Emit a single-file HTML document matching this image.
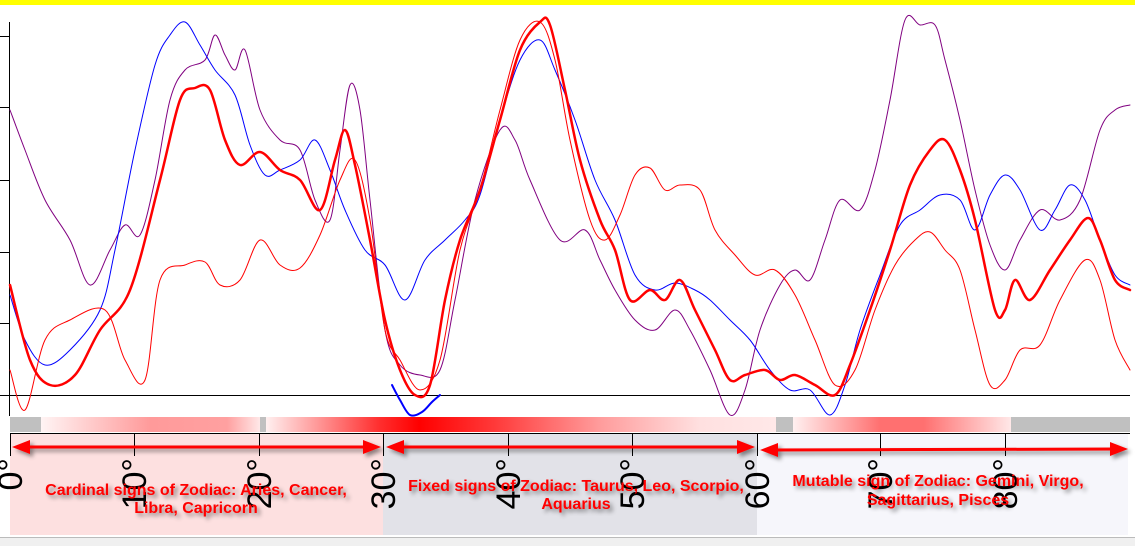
<!DOCTYPE html>
<html><head><meta charset="utf-8"><style>
html,body{margin:0;padding:0;background:#fff;width:1135px;height:546px;overflow:hidden;font-family:"Liberation Sans",sans-serif}
</style></head><body>
<svg id="s" width="1135" height="546" viewBox="0 0 1135 546" xmlns="http://www.w3.org/2000/svg" style="position:absolute;left:0;top:0">
<defs>
<linearGradient id="g1" x1="0" x2="1"><stop offset="0" stop-color="#fff4f4"/><stop offset="0.5" stop-color="#ff9a9a"/><stop offset="0.85" stop-color="#ffa0a0"/><stop offset="1" stop-color="#ffe8e8"/></linearGradient>
<linearGradient id="g2" x1="0" x2="1"><stop offset="0" stop-color="#fff0f0"/><stop offset="0.22" stop-color="#ff3030"/><stop offset="0.3" stop-color="#ff0000"/><stop offset="0.45" stop-color="#ff3a3a"/><stop offset="0.65" stop-color="#ff9a9a"/><stop offset="0.85" stop-color="#ffe0e0"/><stop offset="1" stop-color="#ffe8e8"/></linearGradient>
<linearGradient id="g3" x1="0" x2="1"><stop offset="0" stop-color="#fff0f0"/><stop offset="0.4" stop-color="#ff7070"/><stop offset="0.6" stop-color="#ff7070"/><stop offset="1" stop-color="#ffe8e8"/></linearGradient>
<filter id="sh" x="-5%" y="-20%" width="110%" height="160%"><feDropShadow dx="3" dy="3" stdDeviation="2" flood-color="#000" flood-opacity="0.45"/></filter>
</defs>
<rect x="0" y="0" width="1135" height="5" fill="#ffff00"/>
<rect x="10" y="433" width="373" height="102" fill="#fde0e0"/>
<rect x="383" y="433" width="374" height="102" fill="#e2e2e8"/>
<rect x="757" y="433" width="371" height="102" fill="#f6f6fb"/>
<rect x="0" y="537" width="1135" height="9" fill="#f0f0f0"/>
<line x1="0" y1="537.5" x2="1135" y2="537.5" stroke="#bbb"/>
<rect x="10" y="417" width="31" height="15" fill="#c0c0c0"/>
<rect x="41" y="417" width="219" height="15" fill="url(#g1)"/>
<rect x="260" y="417" width="6" height="15" fill="#c0c0c0"/>
<rect x="266" y="417" width="510" height="15" fill="url(#g2)"/>
<rect x="776" y="417" width="17" height="15" fill="#c0c0c0"/>
<rect x="793" y="417" width="218" height="15" fill="url(#g3)"/>
<rect x="1011" y="417" width="119" height="15" fill="#c0c0c0"/>
<g stroke="#000" stroke-width="1">
<line x1="9.5" y1="22" x2="9.5" y2="416"/>
<line x1="0" y1="36.5" x2="9" y2="36.5"/><line x1="0" y1="107.5" x2="9" y2="107.5"/><line x1="0" y1="180.5" x2="9" y2="180.5"/><line x1="0" y1="252.5" x2="9" y2="252.5"/><line x1="0" y1="323.5" x2="9" y2="323.5"/>
<line x1="0" y1="395.5" x2="1130" y2="395.5"/>
<line x1="10" y1="433.5" x2="1130" y2="433.5"/>
<line x1="10.5" y1="433" x2="10.5" y2="456"/><line x1="134.5" y1="433" x2="134.5" y2="456"/><line x1="259.5" y1="433" x2="259.5" y2="456"/><line x1="383.5" y1="433" x2="383.5" y2="456"/><line x1="508.5" y1="433" x2="508.5" y2="456"/><line x1="632.5" y1="433" x2="632.5" y2="456"/><line x1="757.5" y1="433" x2="757.5" y2="456"/><line x1="880.5" y1="433" x2="880.5" y2="456"/><line x1="1005.5" y1="433" x2="1005.5" y2="456"/>
</g>
<g id="series" fill="none" stroke-linejoin="round" stroke-linecap="round">
<polyline stroke="#800080" stroke-width="1" points="10,110 25,150 45,200 70,240 90,285 110,250 125,225 140,235 155,180 170,100 185,70 205,60 215,35 225,55 235,70 245,50 260,110 280,140 300,150 315,200 330,220 340,150 350,85 360,110 370,200 385,330 400,365 420,375 440,370 455,300 475,200 500,130 515,140 530,180 560,240 585,230 600,260 615,290 635,320 655,330 675,310 690,330 710,370 730,415 745,390 760,330 780,285 795,270 810,280 825,240 840,200 860,210 875,170 890,100 905,20 920,25 935,25 945,60 960,120 975,190 990,245 1005,270 1020,240 1040,210 1060,220 1080,200 1100,130 1115,110 1130,105"/>
<polyline stroke="#0000ff" stroke-width="1" points="10,295 25,340 45,365 70,350 100,310 115,250 135,150 155,65 170,35 185,22 200,45 215,70 235,95 250,145 265,175 280,170 300,160 315,140 330,170 345,210 365,250 385,265 405,300 425,260 445,240 465,220 480,195 500,120 520,60 540,40 555,70 575,120 595,180 615,220 635,275 655,290 675,283 695,290 710,300 730,320 750,340 770,370 790,390 810,390 830,415 845,385 860,330 880,275 900,225 920,210 940,195 960,200 975,230 990,195 1005,175 1020,190 1040,230 1055,210 1070,185 1085,200 1100,240 1115,275 1130,285"/>
<polyline stroke="#0000ff" stroke-width="2" points="392,385 400,400 410,415 422,412 432,402 440,395"/>
<polyline stroke="#ff0000" stroke-width="1" points="10,370 25,410 45,340 70,320 105,310 125,360 145,380 160,280 185,265 205,262 220,285 240,280 260,240 280,265 300,268 320,235 340,180 355,160 370,220 385,330 400,360 420,390 440,360 460,250 480,190 500,110 520,40 540,22 555,60 570,140 590,220 605,240 620,215 635,175 650,168 665,190 680,185 700,190 715,230 735,255 755,275 775,270 795,295 815,340 835,385 855,370 875,310 895,265 915,240 930,232 945,250 960,270 975,330 990,385 1005,380 1020,350 1040,345 1060,300 1085,260 1100,280 1115,340 1130,370"/>
<polyline stroke="#ff0000" stroke-width="2.5" points="10,285 30,360 50,385 75,375 100,330 130,290 160,180 180,100 195,88 210,90 225,140 240,165 260,152 280,170 300,180 320,210 335,160 345,130 355,165 370,240 385,320 400,370 415,395 430,385 445,300 460,240 480,190 500,120 520,50 540,22 550,25 565,90 580,160 600,220 615,250 630,300 650,290 665,300 680,280 695,310 715,350 730,380 745,375 765,370 780,380 795,375 815,385 835,395 850,365 870,310 890,250 910,185 930,150 945,140 960,170 975,220 995,310 1005,310 1015,280 1030,300 1050,270 1070,240 1088,218 1100,240 1115,280 1130,290"/>
</g>
<g stroke="#ff0000" stroke-width="3" fill="#ff0000" filter="url(#sh)">
<line x1="20" y1="447" x2="372" y2="447"/>
<polygon points="12,447 30,440 30,454" stroke="none"/><polygon points="381,447 363,440 363,454" stroke="none"/>
<line x1="394" y1="447" x2="748" y2="447"/>
<polygon points="386,447 404,440 404,454" stroke="none"/><polygon points="755,447 737,440 737,454" stroke="none"/>
<line x1="768" y1="450" x2="1120" y2="449"/>
<polygon points="760,450 778,443 778,457" stroke="none"/><polygon points="1128,449 1110,442 1110,456" stroke="none"/>
</g>
<g font-family="Liberation Sans, sans-serif" font-size="34" fill="#000" text-anchor="end">
<text transform="translate(22,458) rotate(-90)">0°</text>
<text transform="translate(146,458) rotate(-90)">10°</text>
<text transform="translate(271,458) rotate(-90)">20°</text>
<text transform="translate(395,458) rotate(-90)">30°</text>
<text transform="translate(520,458) rotate(-90)">40°</text>
<text transform="translate(644,458) rotate(-90)">50°</text>
<text transform="translate(769,458) rotate(-90)">60°</text>
<text transform="translate(892,458) rotate(-90)">70°</text>
<text transform="translate(1017,458) rotate(-90)">80°</text>
</g>
<g font-family="Liberation Sans, sans-serif" font-size="16" font-weight="bold" fill="#ff0000" text-anchor="middle" filter="url(#sh)">
<text x="196" y="495">Cardinal signs of Zodiac: Aries, Cancer,</text>
<text x="196" y="513">Libra, Capricorn</text>
<text x="576" y="491">Fixed signs of Zodiac: Taurus, Leo, Scorpio,</text>
<text x="576" y="509">Aquarius</text>
<text x="938" y="486">Mutable sign of Zodiac: Gemini, Virgo,</text>
<text x="938" y="505">Sagittarius, Pisces</text>
</g>
</svg>
<script>
(function(){
var pls=document.querySelectorAll('#series polyline');
for(var i=0;i<pls.length;i++){
 var pl=pls[i];
 var p=pl.getAttribute('points').trim().split(/\s+/).map(function(s){var a=s.split(',');return [+a[0],+a[1]];});
 var d='M'+p[0][0]+','+p[0][1];
 for(var k=0;k<p.length-1;k++){
  var p0=p[k-1]||p[k],p1=p[k],p2=p[k+1],p3=p[k+2]||p2;
  var c1x=p1[0]+(p2[0]-p0[0])/6,c1y=p1[1]+(p2[1]-p0[1])/6;
  var c2x=p2[0]-(p3[0]-p1[0])/6,c2y=p2[1]-(p3[1]-p1[1])/6;
  d+=' C'+c1x.toFixed(1)+','+c1y.toFixed(1)+' '+c2x.toFixed(1)+','+c2y.toFixed(1)+' '+p2[0]+','+p2[1];
 }
 var path=document.createElementNS('http://www.w3.org/2000/svg','path');
 path.setAttribute('d',d);
 path.setAttribute('stroke',pl.getAttribute('stroke'));
 path.setAttribute('stroke-width',pl.getAttribute('stroke-width'));
 pl.parentNode.replaceChild(path,pl);
}
})();
</script>
</body></html>
